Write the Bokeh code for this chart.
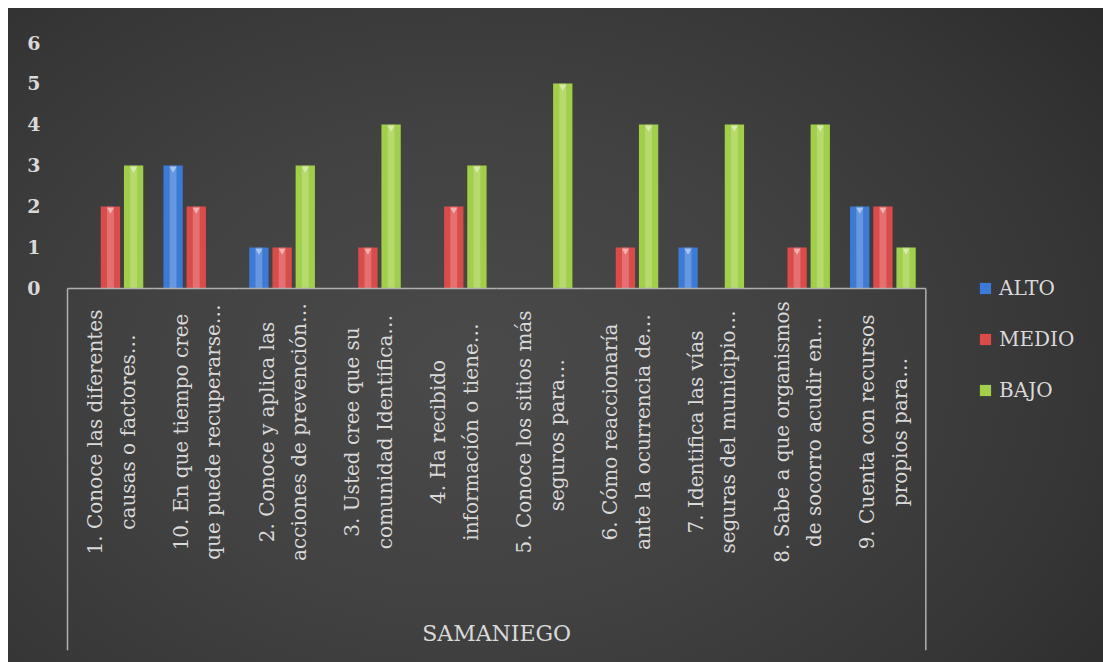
from math import pi
from bokeh.plotting import figure
from bokeh.models import (ColumnDataSource, FactorRange, Range1d, FixedTicker, Legend,
                          LegendItem, InlineStyleSheet, CDSView, BooleanFilter)
from bokeh.transform import dodge
from bokeh.core.properties import value
from bokeh.embed import file_html
from bokeh.resources import INLINE

# ---------------- data ----------------
categories = [
    "1. Conoce las diferentes causas o factores…",
    "10. En que tiempo cree que puede recuperarse…",
    "2. Conoce y aplica las acciones de prevención…",
    "3. Usted cree que su comunidad Identifica…",
    "4. Ha recibido información o tiene…",
    "5. Conoce los sitios más seguros  para…",
    "6. Cómo reaccionaría ante la ocurrencia de…",
    "7. Identifica las vías seguras del municipio…",
    "8. Sabe a que organismos de socorro acudir en…",
    "9. Cuenta con recursos propios para…",
]
label_line1 = [
    "1. Conoce las diferentes",
    "10. En que tiempo cree",
    "2. Conoce y aplica las",
    "3. Usted cree que su",
    "4. Ha recibido",
    "5. Conoce los sitios más",
    "6. Cómo reaccionaría",
    "7. Identifica las vías",
    "8. Sabe a que organismos",
    "9. Cuenta con recursos",
]
label_line2 = [
    "causas o factores…",
    "que puede recuperarse…",
    "acciones de prevención…",
    "comunidad Identifica…",
    "información o tiene…",
    "seguros  para…",
    "ante la ocurrencia de…",
    "seguras del municipio…",
    "de socorro acudir en…",
    "propios para…",
]
alto = [0, 3, 1, 0, 0, 0, 0, 1, 0, 2]
medio = [2, 2, 1, 1, 2, 0, 1, 0, 1, 2]
bajo = [3, 0, 3, 4, 3, 5, 4, 4, 4, 1]
series_names = ["ALTO", "MEDIO", "BAJO"]
group_label = "SAMANIEGO"
y_ticks = [0, 1, 2, 3, 4, 5, 6]
legend_space = [" ", "  "]  # empty slots on the x scale that hold the legend

# ---------------- styling ----------------
FONT = "DejaVu Serif"
TXT = "#d9d9d9"
colors = ["#3b7ad6", "#dc4a4a", "#a2cf48"]

src = ColumnDataSource(dict(cat=categories, alto=alto, medio=medio, bajo=bajo,
                            l1=label_line1, l2=label_line2))

x_range = FactorRange(factors=categories + legend_space, range_padding=0.07,
                      range_padding_units="absolute")
p = figure(width=1103, height=662, x_range=x_range, y_range=Range1d(-8.83, 6),
           output_backend="svg", toolbar_location=None, x_axis_location=None,
           min_border_left=61, min_border_right=0, min_border_top=42, min_border_bottom=12)
p.border_fill_color = None
p.background_fill_color = None
p.outline_line_color = None
p.grid.visible = False
p.stylesheets = [InlineStyleSheet(css=(
    ":host { background-color: #ffffff;"
    " background-image: radial-gradient(ellipse 75% 90% at 42% 55%, #4a4a4a 0%, #424242 40%, #363636 75%, #2b2b2b 100%);"
    " background-position: 8px 8px; background-size: calc(100% - 8px) calc(100% - 8px);"
    " background-repeat: no-repeat; }"))]

# bars
offsets = [-0.27, 0.0, 0.27]
fields = ["alto", "medio", "bajo"]
series = [alto, medio, bajo]
renderers = []
for off, f, c, vals in zip(offsets, fields, colors, series):
    xd = dodge("cat", off, range=p.x_range)
    r = p.vbar(x=xd, top=f, bottom=0, width=0.225,
               source=src, fill_color=c, line_color=None)
    p.vbar(x=xd, top=f, bottom=0, width=0.08,
           source=src, fill_color="white", fill_alpha=0.22, line_color=None)
    view = CDSView(filter=BooleanFilter([v > 0 for v in vals]))
    p.scatter(x=xd, y=dodge(f, -0.08), source=src, view=view, marker="inverted_triangle",
              size=7, fill_color="white", fill_alpha=0.45, line_color=None)
    renderers.append(r)

# category axis box
p.segment(x0=dodge("cat", -0.5, range=p.x_range), y0=0,
          x1=dodge("cat", 0.5, range=p.x_range), y1=0,
          source=src, line_color="#b0b0b0", line_width=1.5)
p.segment(x0=dodge("cat", -0.5, range=p.x_range), y0=0,
          x1=dodge("cat", -0.5, range=p.x_range), y1=-8.83,
          source=ColumnDataSource(dict(cat=[categories[0]])), line_color="#b0b0b0", line_width=1.5)
p.segment(x0=dodge("cat", 0.5, range=p.x_range), y0=0,
          x1=dodge("cat", 0.5, range=p.x_range), y1=-8.83,
          source=ColumnDataSource(dict(cat=[categories[-1]])), line_color="#b0b0b0", line_width=1.5)

# category labels (rotated, two lines)
p.text(x=dodge("cat", -0.18, range=p.x_range), y=-3.5, text="l1", source=src, angle=pi / 2,
       text_align="center", text_baseline="middle", text_font=value(FONT),
       text_font_size="20px", text_color=TXT)
p.text(x=dodge("cat", 0.2, range=p.x_range), y=-3.5, text="l2", source=src, angle=pi / 2,
       text_align="center", text_baseline="middle", text_font=value(FONT),
       text_font_size="20px", text_color=TXT)

# group label
p.text(x=dodge("cat", 0.5, range=p.x_range), y=-8.41, text="t",
       source=ColumnDataSource(dict(cat=[categories[4]], t=[group_label])),
       text_align="center", text_baseline="middle", text_font=value(FONT),
       text_font_size="22px", text_color=TXT)

# y axis
ya = p.yaxis[0]
ya.ticker = FixedTicker(ticks=y_ticks)
ya.axis_line_color = None
ya.major_tick_line_color = None
ya.major_tick_out = 0
ya.major_tick_in = 0
ya.minor_tick_line_color = None
ya.major_label_standoff = 21
ya.major_label_text_font = FONT
ya.major_label_text_font_size = "19px"
ya.major_label_text_font_style = "bold"
ya.major_label_text_color = TXT

# legend
legend = Legend(items=[LegendItem(label=n, renderers=[r]) for n, r in zip(series_names, renderers)],
                location=(917, 248), orientation="vertical",
                background_fill_alpha=0, border_line_color=None,
                label_text_font=FONT, label_text_font_size="20px", label_text_color=TXT,
                glyph_width=14, glyph_height=14, label_standoff=7, spacing=27,
                padding=0, margin=0, label_height=20)
p.add_layout(legend)

open("out.html", "w").write(file_html(p, INLINE))
